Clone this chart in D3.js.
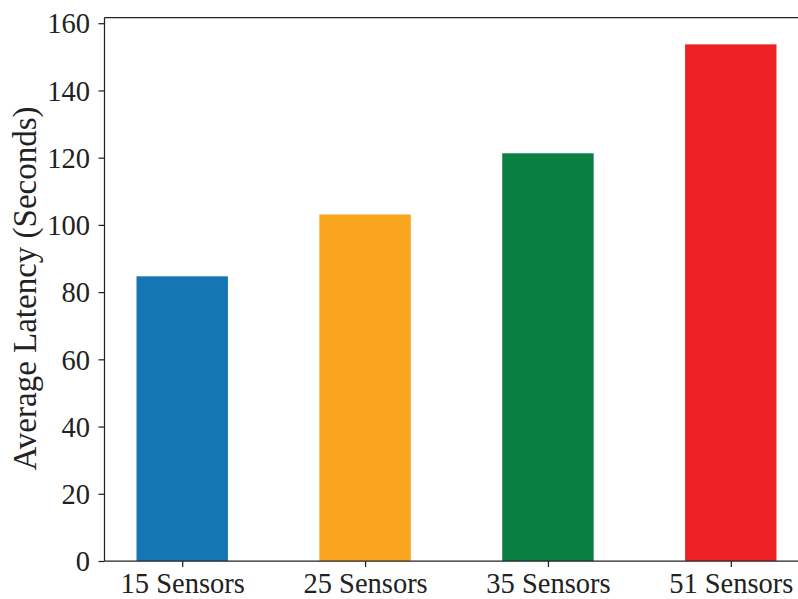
<!DOCTYPE html>
<html>
<head>
<meta charset="utf-8">
<script src="https://cdn.jsdelivr.net/npm/d3@7"></script>
<style>
  html, body { margin: 0; padding: 0; background: #fff; }
  svg { display: block; }
  text { font-family: "Liberation Serif", "Times New Roman", serif; fill: #222; }
</style>
</head>
<body>
<svg id="chart" width="798" height="599"></svg>
<script>
// Average latency per sensor deployment size
const categories = ["15 Sensors", "25 Sensors", "35 Sensors", "51 Sensors"];
const latency = [84.7, 103.1, 121.3, 153.7];
const barColors = ["#1576b3", "#f8a41d", "#0b7f41", "#ee2225"];
const yTicks = [0, 20, 40, 60, 80, 100, 120, 140, 160];

const svg = d3.select("#chart");
const plot = { left: 104.5, right: 808.5, top: 17.5, bottom: 561 };

const x = d3.scaleLinear().domain([-0.425, categories.length - 1 + 0.425]).range([plot.left, plot.right]);
const y = d3.scaleLinear().domain([0, 161.7]).range([plot.bottom, plot.top]);
const barWidth = 0.5;

// bars
svg.append("g").selectAll("rect")
  .data(latency)
  .join("rect")
  .attr("x", (d, i) => x(i - barWidth / 2))
  .attr("width", (d, i) => x(i + barWidth / 2) - x(i - barWidth / 2))
  .attr("y", d => y(d))
  .attr("height", d => y(0) - y(d))
  .attr("fill", (d, i) => barColors[i]);

// y axis
const yAxis = svg.append("g")
  .attr("transform", `translate(${plot.left},0)`)
  .call(d3.axisLeft(y).tickValues(yTicks).tickSize(6).tickPadding(8.5).tickFormat(d3.format("d")));
yAxis.select(".domain").remove();
yAxis.selectAll("line").attr("stroke", "#222").attr("stroke-width", 1.25);
yAxis.selectAll("text").attr("font-size", 28.5).attr("dy", "0.34em");

// x axis
const xAxis = svg.append("g")
  .attr("transform", `translate(0,${plot.bottom})`)
  .call(d3.axisBottom(x).tickValues(d3.range(categories.length)).tickSize(6).tickPadding(6)
    .tickFormat(i => categories[i]));
xAxis.select(".domain").remove();
xAxis.selectAll("line").attr("stroke", "#222").attr("stroke-width", 1.25);
xAxis.selectAll("text").attr("font-size", 28.5);

// frame
const frame = svg.append("g").attr("stroke", "#222").attr("stroke-width", 1.25).attr("fill", "none");
frame.append("line").attr("x1", plot.left).attr("x2", plot.left).attr("y1", plot.top).attr("y2", plot.bottom);
frame.append("line").attr("x1", plot.left).attr("x2", plot.right).attr("y1", plot.bottom).attr("y2", plot.bottom);
frame.append("line").attr("x1", plot.left).attr("x2", plot.right).attr("y1", plot.top).attr("y2", plot.top);
frame.append("line").attr("x1", plot.right).attr("x2", plot.right).attr("y1", plot.top).attr("y2", plot.bottom);

// y label
svg.append("text")
  .attr("transform", `translate(36,288.5) rotate(-90)`)
  .attr("text-anchor", "middle")
  .attr("font-size", 33)
  .text("Average Latency (Seconds)");
</script>
</body>
</html>
